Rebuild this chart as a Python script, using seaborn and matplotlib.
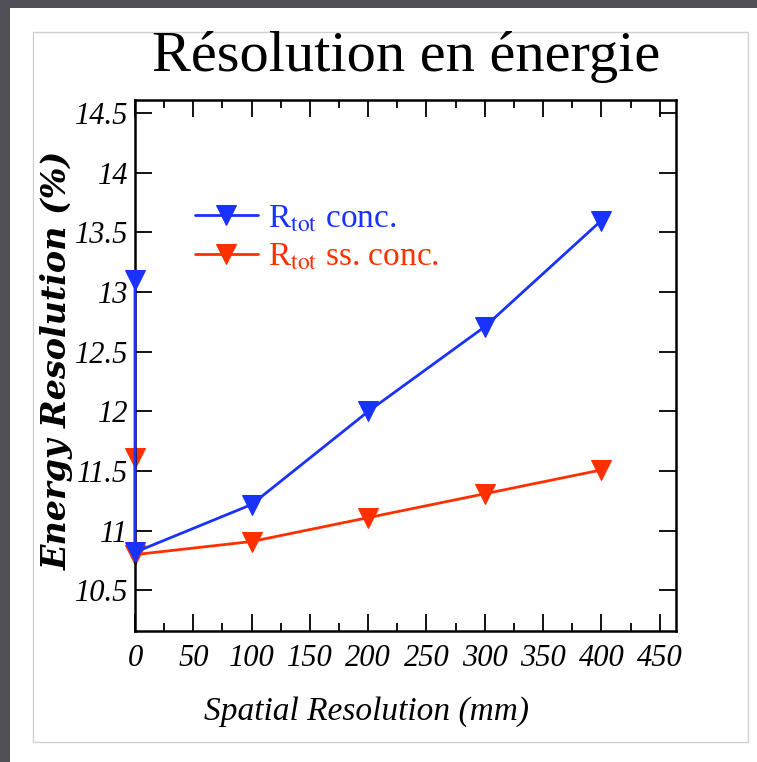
import numpy as np
import pandas as pd
import seaborn as sns
import matplotlib.pyplot as plt
from matplotlib.patches import Rectangle
from matplotlib.ticker import MultipleLocator

# data
spatial_res = [0, 0, 100, 200, 300, 400]
r_conc = [13.1, 10.82, 11.22, 12.0, 12.71, 13.6]
r_ss_conc = [11.61, 10.8, 10.91, 11.11, 11.31, 11.51]
x_ticks = [0, 50, 100, 150, 200, 250, 300, 350, 400, 450]
y_ticks = [10.5, 11, 11.5, 12, 12.5, 13, 13.5, 14, 14.5]

blue = "#1932ff"
red = "#ff3000"

sns.set_style("ticks", {"text.color": "black", "axes.labelcolor": "black",
                        "xtick.color": "black", "ytick.color": "black",
                        "axes.edgecolor": "black"})
plt.rcParams["font.family"] = ["Liberation Serif", "DejaVu Serif"]
plt.rcParams["mathtext.fontset"] = "stix"

df1 = pd.DataFrame({"x": spatial_res, "y": r_conc})
df2 = pd.DataFrame({"x": spatial_res, "y": r_ss_conc})

fig = plt.figure(figsize=(7.57, 7.62), dpi=100)
fig.patch.set_facecolor("#505056")
# slide-like white panel
fig.patches.append(Rectangle((10 / 757, 0), 747 / 757, 754 / 762, transform=fig.transFigure,
                             facecolor="white", edgecolor="none", zorder=-2))
fig.patches.append(Rectangle((33 / 757, 20 / 762), 715 / 757, 710 / 762, transform=fig.transFigure,
                             facecolor="none", edgecolor="#d0d0d0", lw=1, zorder=-1))

ax = fig.add_axes([135 / 757, 131 / 762, 541 / 757, 531 / 762])
ax.set_zorder(2)

sns.lineplot(data=df1, x="x", y="y", sort=False, estimator=None, color=blue, marker="v",
             markersize=14, markeredgecolor=blue, lw=2, label=r"R$_{\rm tot}$ conc.",
             clip_on=False, ax=ax)
sns.lineplot(data=df2, x="x", y="y", sort=False, estimator=None, color=red, marker="v",
             markersize=14, markeredgecolor=red, lw=2, label=r"R$_{\rm tot}$ ss. conc.",
             clip_on=False, ax=ax)
# draw blue over red like the reference
ax.lines[0].set_zorder(3)

ax.set_xlim(0, 464)
ax.set_ylim(10.16, 14.61)
ax.set_xticks(x_ticks)
ax.set_yticks(y_ticks)
ax.set_yticklabels([f"{v:g}" for v in y_ticks])
ax.xaxis.set_minor_locator(MultipleLocator(25))
ax.tick_params(which="both", direction="in", top=True, right=True, width=1.3, labelsize=22)
ax.tick_params(which="major", length=12)
ax.tick_params(axis="x", which="major", pad=9)
ax.tick_params(axis="y", which="major", pad=5)
ax.tick_params(which="minor", length=6)
for lab in ax.get_xticklabels() + ax.get_yticklabels():
    lab.set_fontstyle("italic")
for sp in ax.spines.values():
    sp.set_linewidth(1.8)

ax.set_xlabel("Spatial Resolution (mm)", fontsize=24, fontstyle="italic")
ax.xaxis.set_label_coords((366 - 135) / 541, -(712 - 631) / 531)
ax.set_ylabel("Energy Resolution (%)", fontsize=24, fontstyle="italic", fontweight="bold",
              family=["DejaVu Serif"])
ax.yaxis.set_label_coords(-(135 - 57) / 541, 0.51)
ax.yaxis.label.set_va("center")
ax.xaxis.label.set_va("center")

leg = ax.legend(loc="upper left", bbox_to_anchor=(0.11, 0.805), frameon=False, fontsize=24,
                handlelength=1.9, handletextpad=0.3, labelspacing=0.25, borderaxespad=0,
                borderpad=0)
for txt, col in zip(leg.get_texts(), [blue, red]):
    txt.set_color(col)

fig.text(406 / 757, 1 - 57 / 762, "Résolution en énergie", ha="center", va="center",
         fontsize=42, color="black")

fig.savefig("out.png", dpi=100, facecolor=fig.get_facecolor())
